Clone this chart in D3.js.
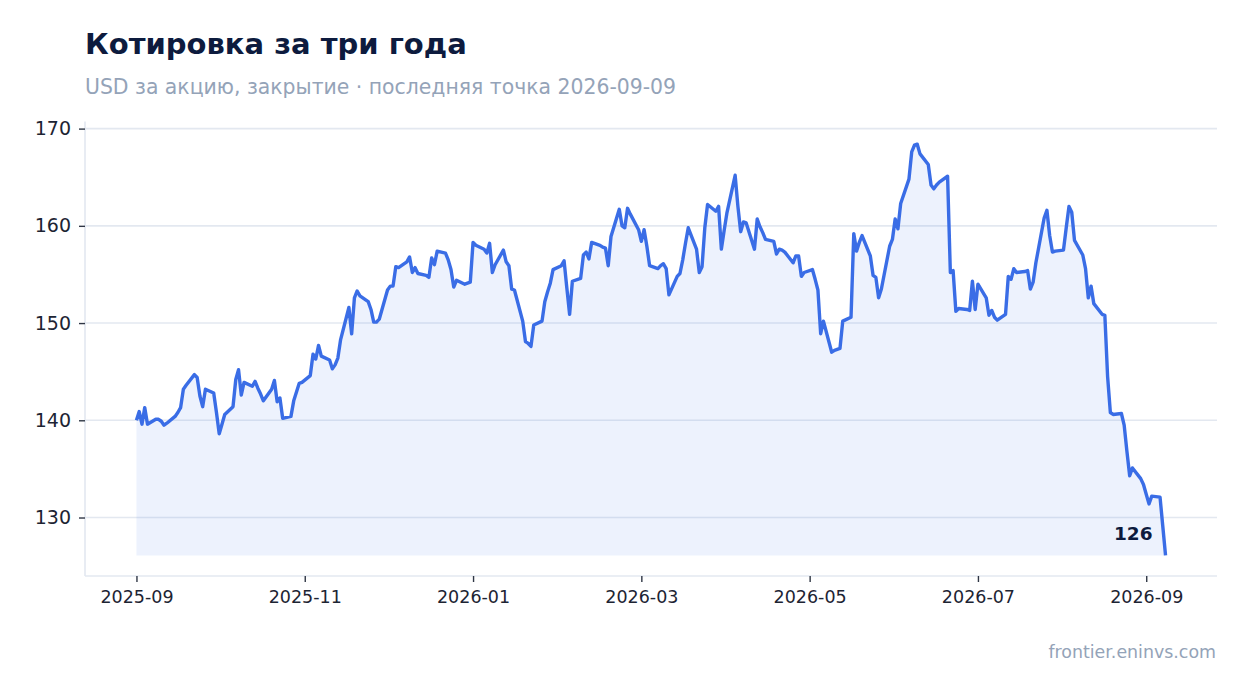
<!DOCTYPE html>
<html>
<head>
<meta charset="utf-8">
<script src="https://cdn.jsdelivr.net/npm/d3@7"></script>
<style>
  body { margin: 0; background: #ffffff; }
  svg text { font-family: "DejaVu Sans", sans-serif; }
</style>
</head>
<body>
<div id="chart"></div>
<script>
// daily closes, one per weekday from firstDay to lastDay
const firstDay = "2025-09-01";
const lastDay = "2026-09-09";
const closes = [
  140.0, 140.9, 139.6, 141.3, 139.6, 140.1, 140.1, 139.9, 139.5, 139.7,
  140.4, 140.8, 141.3, 143.2, 143.6, 144.7, 144.4, 142.5, 141.4, 143.2,
  142.8, 140.8, 138.6, 139.6, 140.6, 141.4, 144.2, 145.2, 142.6, 143.9,
  143.5, 144.0, 143.3, 142.7, 142.0, 143.2, 144.1, 141.9, 142.3, 140.2,
  140.4, 142.0, 142.9, 143.8, 143.9, 144.6, 146.8, 146.3, 147.7, 146.6,
  146.2, 145.3, 145.7,
  146.4, 148.3, 151.6, 148.9, 152.6, 153.3, 152.8, 152.2, 151.4, 150.1,
  150.1, 150.4, 153.4, 153.8, 153.8, 155.8, 155.7, 156.3, 156.8, 155.2,
  155.7, 155.1, 154.9, 154.7, 156.7, 156.0, 157.4, 157.2, 156.5, 155.5,
  153.7, 154.4, 154.0, 154.1, 154.2, 158.3, 158.0, 157.6, 157.2, 158.2,
  155.2, 156.0, 157.5, 156.3, 155.9, 153.5, 153.4, 150.2, 148.1, 147.9,
  147.6, 149.8, 150.2, 152.2, 153.2, 154.1, 155.5,
  155.9, 156.4, 153.6, 150.9, 154.3, 154.6, 157.0, 157.3, 156.6, 158.3,
  158.0, 157.8, 157.7, 155.9, 158.9, 161.7, 160.0, 159.8, 161.8, 161.2,
  159.6, 158.4, 159.6, 157.9, 155.9, 155.6, 155.9, 156.1, 155.6, 152.9,
  154.8, 155.1, 156.5, 158.2, 159.8, 157.6, 155.2, 155.8, 159.8, 162.2,
  161.5, 162.0, 157.6, 159.5, 161.3, 165.2, 162.0, 159.4, 160.4, 160.3,
  157.6, 160.7, 159.9, 159.3, 158.6, 158.4, 157.1, 157.6, 157.5, 157.3,
  156.2, 156.9, 156.9, 154.8, 155.2, 155.5,
  154.5, 153.4, 148.9, 150.2,
  147.0, 147.2, 147.3, 147.4, 150.2, 150.6, 159.2, 157.4, 158.3, 159.0,
  156.9, 154.9, 154.7, 152.6, 153.5, 157.9, 158.6, 160.7, 159.7, 162.3,
  164.8, 167.6, 168.3, 168.4, 167.4, 166.3, 164.2, 163.8, 164.2, 164.5,
  165.1, 155.2, 155.4, 151.2, 151.5, 151.4, 151.3, 154.3, 151.4, 154.0,
  152.6, 150.8, 151.3, 150.6, 150.3, 150.9, 154.8, 154.5, 155.6, 155.2,
  155.3, 155.4, 153.5, 154.2, 156.2, 160.8, 161.6, 159.0, 157.3, 157.4,
  157.5, 159.8, 162.0, 161.4, 158.5, 157.0, 155.6, 152.6, 153.8, 152.0,
  150.9, 150.8, 144.5, 140.8, 140.6, 140.7, 139.5, 136.8, 134.3, 135.1,
  134.0, 133.4, 132.4, 131.4, 132.2, 132.1, 129.1, 126.1
];
// x ticks sit every 61 days from the first day
const xTickLabels = ["2025-09", "2025-11", "2026-01", "2026-03", "2026-05", "2026-07", "2026-09"];
const xTickStepDays = 61;
const yTickValues = [130, 140, 150, 160, 170];

const titleText = "Котировка за три года";
const subtitleText = "USD за акцию, закрытие · последняя точка 2026-09-09";
const sourceText = "frontier.eninvs.com";

//1. SVG
const width = 1247;
const height = 693;
const margin = {top: 123.6, left: 85, right: 30, bottom: 117};

const svg = d3.select("#chart")
    .append("svg")
    .attr("width", width)
    .attr("height", height);

//2. DATA
const parseDay = d3.timeParse("%Y-%m-%d");
const weekdays = d3.timeDay.range(parseDay(firstDay), d3.timeDay.offset(parseDay(lastDay), 1))
    .filter(d => d.getDay() !== 0 && d.getDay() !== 6);
const n = Math.min(weekdays.length, closes.length);
const data = [];
for (let i = 0; i < n; i++) data.push({date: weekdays[i], close: closes[i]});

//3. SCALES (5% padding on both axes)
const dateExt = d3.extent(data, d => d.date);
const datePad = (dateExt[1] - dateExt[0]) * 0.05;
const valMin = d3.min(data, d => d.close);
const valMax = d3.max(data, d => d.close);
const valPad = (valMax - valMin) * 0.05;

const xScale = d3.scaleTime()
    .domain([new Date(+dateExt[0] - datePad), new Date(+dateExt[1] + datePad)])
    .range([margin.left, width - margin.right]);

const yScale = d3.scaleLinear()
    .domain([valMin - valPad, valMax + valPad])
    .range([height - margin.bottom, margin.top]);

//4. GRID + SPINES
svg.append("g")
    .selectAll("line")
    .data(yTickValues)
    .enter()
    .append("line")
        .attr("x1", margin.left)
        .attr("x2", width - margin.right)
        .attr("y1", d => yScale(d))
        .attr("y2", d => yScale(d))
        .attr("stroke", "#e3e8f0")
        .attr("stroke-width", 1.6);

svg.append("line")
    .attr("x1", margin.left).attr("x2", margin.left)
    .attr("y1", margin.top - 2).attr("y2", height - margin.bottom)
    .attr("stroke", "#e3e8f0").attr("stroke-width", 1.6);

svg.append("line")
    .attr("x1", margin.left).attr("x2", width - margin.right)
    .attr("y1", height - margin.bottom).attr("y2", height - margin.bottom)
    .attr("stroke", "#e3e8f0").attr("stroke-width", 1.6);

//5. AREA + LINE
const area = d3.area()
    .x(d => xScale(d.date))
    .y0(yScale(valMin))
    .y1(d => yScale(d.close));

svg.append("path")
    .datum(data)
    .attr("d", area)
    .attr("fill", "#3a6de4")
    .attr("fill-opacity", 0.09);

const line = d3.line()
    .x(d => xScale(d.date))
    .y(d => yScale(d.close));

svg.append("path")
    .datum(data)
    .attr("d", line)
    .attr("fill", "none")
    .attr("stroke", "#3a6de6")
    .attr("stroke-width", 3.4)
    .attr("stroke-linejoin", "round");

//6. AXES
const xTickDates = xTickLabels.map((lab, k) => d3.timeDay.offset(parseDay(firstDay), k * xTickStepDays));
const xAxis = svg.append("g")
    .attr("transform", `translate(0,${height - margin.bottom})`)
    .call(d3.axisBottom(xScale)
        .tickValues(xTickDates)
        .tickFormat((d, i) => xTickLabels[i])
        .tickSize(6)
        .tickPadding(9));

const yAxis = svg.append("g")
    .attr("transform", `translate(${margin.left},0)`)
    .call(d3.axisLeft(yScale)
        .tickValues(yTickValues)
        .tickFormat(d3.format("d"))
        .tickSize(6)
        .tickPadding(8));

[xAxis, yAxis].forEach(ax => {
    ax.select(".domain").remove();
    ax.selectAll(".tick line").attr("stroke", "#2f3645").attr("stroke-width", 1.4);
    ax.selectAll(".tick text")
        .attr("fill", "#1d2433")
        .style("font-size", "17.5px");
});
yAxis.selectAll(".tick text").style("font-size", "19px");

//7. LABELS
const last = data[data.length - 1];
svg.append("text")
    .attr("x", xScale(last.date) - 13)
    .attr("y", yScale(last.close) - 15)
    .attr("text-anchor", "end")
    .attr("fill", "#0d1b3e")
    .style("font-size", "18.5px")
    .style("font-weight", "bold")
    .text(d3.format(".0f")(last.close));

svg.append("text")
    .attr("x", 85)
    .attr("y", 54)
    .attr("fill", "#0d1b3e")
    .style("font-size", "29px")
    .style("font-weight", "bold")
    .text(titleText);

svg.append("text")
    .attr("x", 85)
    .attr("y", 94)
    .attr("fill", "#94a3b8")
    .style("font-size", "20.4px")
    .text(subtitleText);

svg.append("text")
    .attr("x", 1216)
    .attr("y", 658)
    .attr("text-anchor", "end")
    .attr("fill", "#94a3b8")
    .style("font-size", "17.4px")
    .text(sourceText);
</script>
</body>
</html>
